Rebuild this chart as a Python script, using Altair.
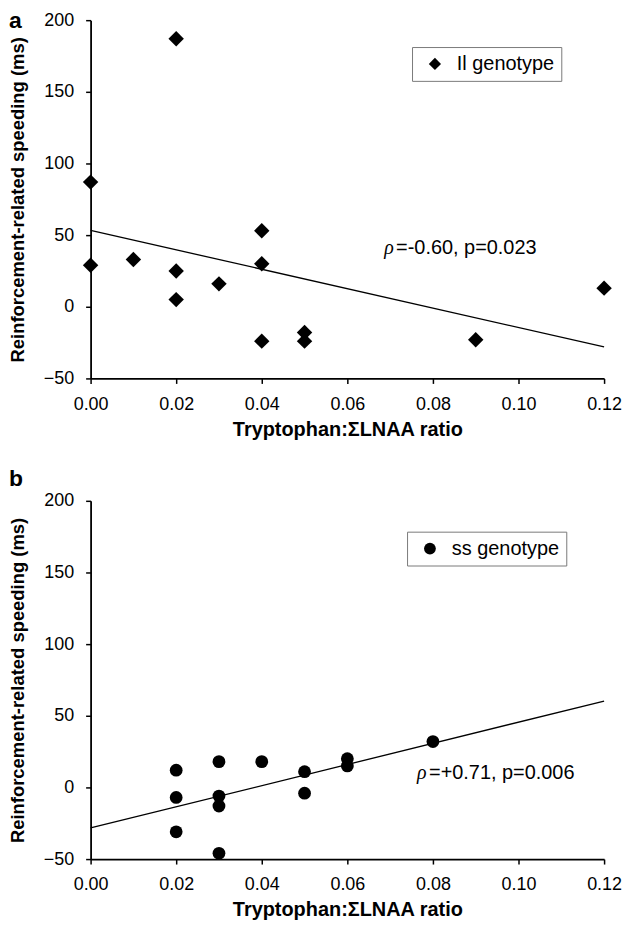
import altair as alt
import pandas as pd

# ---- Panel a: Il genotype ----
a_x = [0.00, 0.00, 0.01, 0.02, 0.02, 0.02, 0.03, 0.04, 0.04, 0.04, 0.05, 0.05, 0.09, 0.12]
a_y = [87, 29, 33, 187, 25, 5, 16, 53, 30, -24, -18, -24, -23, 13]
a_fit_x = [0.00, 0.12]
a_fit_y = [53.3, -28.0]
a_label = "Il genotype"
a_rho = "ρ"
a_stat = "=-0.60, p=0.023"
a_stat_pos = [0.0686, 41]

# ---- Panel b: ss genotype ----
b_x = [0.02, 0.02, 0.02, 0.03, 0.03, 0.03, 0.03, 0.04, 0.05, 0.05, 0.06, 0.06, 0.08]
b_y = [12, -7, -31, 18, -6, -13, -46, 18, 11, -4, 20, 15, 32]
b_fit_x = [0.00, 0.12]
b_fit_y = [-28.3, 60.3]
b_label = "ss genotype"
b_rho = "ρ"
b_stat = "=+0.71, p=0.006"
b_stat_pos = [0.0763, 9.7]

x_ticks = [0.00, 0.02, 0.04, 0.06, 0.08, 0.10, 0.12]
y_ticks = [-50, 0, 50, 100, 150, 200]
x_title = "Tryptophan:ΣLNAA ratio"
y_title = "Reinforcement-related speeding (ms)"

FONT = "Liberation Sans"
W, H = 516, 360


def panel(xs, ys, fx, fy, label, rho, stat, pos, shape, size, leg_size,
          letter, letter_y, leg_x, leg_y):
    pts = pd.DataFrame({"x": xs, "y": ys, "g": [label] * len(xs)})
    fit = pd.DataFrame({"x": fx, "y": fy})
    ann = pd.DataFrame({"x": [pos[0]], "y": [pos[1]], "rho": [rho], "stat": [stat]})

    xs_ = alt.Scale(domain=[0, 0.12], nice=False, zero=False)
    ys_ = alt.Scale(domain=[-50, 200], nice=False, zero=False)
    xax = alt.Axis(values=x_ticks, format=".2f", title=x_title, labelPadding=12,
                   titlePadding=6, labelFlush=False, titleFontSize=20)
    yax = alt.Axis(values=y_ticks, title=y_title, labelPadding=12,
                   titleX=-82, titleY=H / 2, titleAngle=270, titleAlign="center",
                   titleBaseline="top", labelFlush=False, titleFontSize=18.5)

    points = alt.Chart(pts).mark_point(filled=True, color="black", opacity=1,
                                       size=size).encode(
        x=alt.X("x:Q", scale=xs_, axis=xax),
        y=alt.Y("y:Q", scale=ys_, axis=yax),
        shape=alt.Shape("g:N", scale=alt.Scale(range=[shape]),
                        legend=alt.Legend(
                            title=None, orient="none", legendX=leg_x, legendY=leg_y,
                            fillColor="white", strokeColor="#7a7a7a", padding=7,
                            symbolSize=leg_size, symbolFillColor="black",
                            symbolStrokeColor="black", symbolOffset=6,
                            labelOffset=12, labelFontSize=20, labelFont=FONT,
                            labelColor="black", cornerRadius=0)),
    )
    line = alt.Chart(fit).mark_line(color="black", strokeWidth=1.3).encode(
        x=alt.X("x:Q", scale=xs_), y=alt.Y("y:Q", scale=ys_))
    t_rho = alt.Chart(ann).mark_text(align="left", baseline="middle", fontSize=20,
                                     font="Liberation Serif", fontStyle="italic",
                                     color="black").encode(
        x=alt.X("x:Q", scale=xs_), y=alt.Y("y:Q", scale=ys_), text="rho:N")
    t_stat = alt.Chart(ann).mark_text(align="left", baseline="middle", fontSize=20,
                                      font=FONT, dx=12, color="black").encode(
        x=alt.X("x:Q", scale=xs_), y=alt.Y("y:Q", scale=ys_), text="stat:N")
    t_letter = alt.Chart(pd.DataFrame({"t": [letter]})).mark_text(
        align="left", baseline="alphabetic", fontSize=23, fontWeight="bold",
        font=FONT, color="black").encode(
        x=alt.value(-82), y=alt.value(letter_y), text="t:N")
    return alt.layer(line, points, t_rho, t_stat, t_letter).properties(width=W, height=H)


pa = panel(a_x, a_y, a_fit_x, a_fit_y, a_label, a_rho, a_stat, a_stat_pos,
           "diamond", 240, 150, "a", 8, 323, 27)
pb = panel(b_x, b_y, b_fit_x, b_fit_y, b_label, b_rho, b_stat, b_stat_pos,
           "circle", 165, 140, "b", -15, 318, 31)

chart = alt.vconcat(pa, pb, spacing=123, bounds="flush").resolve_scale(
    shape="independent").resolve_legend(shape="independent").properties(
    padding={"left": 0, "top": 0, "right": 0, "bottom": 0}
).configure_view(stroke=None).configure_axis(
    grid=False, domainColor="black", domainWidth=1.8, tickColor="black",
    tickWidth=1.5, tickSize=5, labelFont=FONT, labelFontSize=18,
    labelColor="black", titleFont=FONT, titleFontSize=19, titleFontWeight="bold",
    titleColor="black")

chart.save("out.html", embed_options={"renderer": "svg", "actions": False})
